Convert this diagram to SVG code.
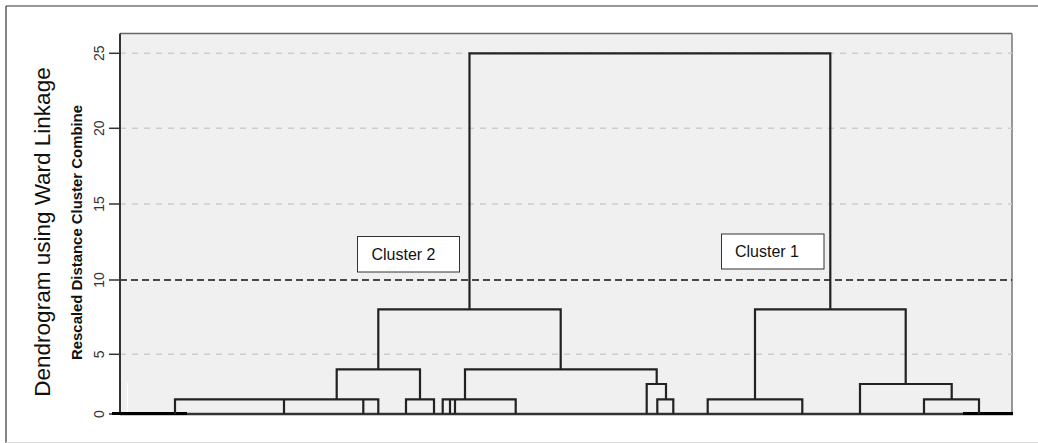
<svg xmlns="http://www.w3.org/2000/svg" width="1038" height="443" viewBox="0 0 1038 443">
<style>
.grid{stroke:#cdcdcd;stroke-width:1.5;stroke-dasharray:6 6;fill:none}
.cut{stroke:#111;stroke-width:1.5;stroke-dasharray:7 4;fill:none}
.link{stroke:#222;stroke-width:2.2;fill:none;stroke-linejoin:miter}
.tick{stroke:#333;stroke-width:1.5}
.tl{font-family:"Liberation Sans",Arial,sans-serif;font-size:14px;fill:#333;text-anchor:middle}
.lbl{font-family:"Liberation Sans",Arial,sans-serif;font-size:16px;fill:#111;text-anchor:middle}
.box{fill:#fff;stroke:#333;stroke-width:1}
</style>
<rect x="0" y="0" width="1038" height="443" fill="#fff"/>
<g id="frame">
<line x1="6" y1="6" x2="1038" y2="6" stroke="#333" stroke-width="1.2"/>
<line x1="6" y1="6" x2="6" y2="443" stroke="#333" stroke-width="1.2"/>
<line x1="6" y1="442.5" x2="1038" y2="442.5" stroke="#ddd" stroke-width="1"/>
</g>
<g id="plot">
<rect x="120" y="33.5" width="892" height="380.5" fill="#f0f0f0"/>
<line x1="120" y1="33.5" x2="1012" y2="33.5" stroke="#666" stroke-width="1.5"/>
<line x1="1012" y1="33.5" x2="1012" y2="414" stroke="#777" stroke-width="1.5"/>
<line class="grid" x1="120" y1="53.3" x2="1012" y2="53.3"/>
<line class="grid" x1="120" y1="128.3" x2="1012" y2="128.3"/>
<line class="grid" x1="120" y1="204" x2="1012" y2="204"/>
<line class="grid" x1="120" y1="354.3" x2="1012" y2="354.3"/>
<line class="cut" x1="120" y1="280" x2="1012" y2="280"/>
<line x1="127.5" y1="383" x2="127.5" y2="413" stroke="#fff" stroke-width="1"/>
</g>
<g id="axis">
<line x1="120" y1="33.5" x2="120" y2="414" stroke="#333" stroke-width="2"/>
<line class="tick" x1="109" y1="53.3" x2="120" y2="53.3"/>
<line class="tick" x1="109" y1="128.3" x2="120" y2="128.3"/>
<line class="tick" x1="109" y1="204" x2="120" y2="204"/>
<line class="tick" x1="109" y1="280" x2="120" y2="280"/>
<line class="tick" x1="109" y1="354.3" x2="120" y2="354.3"/>
<line class="tick" x1="109" y1="414" x2="120" y2="414"/>
<text class="tl" transform="translate(103.5,53.3) rotate(-90)">25</text>
<text class="tl" transform="translate(103.5,128.3) rotate(-90)">20</text>
<text class="tl" transform="translate(103.5,204) rotate(-90)">15</text>
<text class="tl" transform="translate(103.5,280) rotate(-90)">10</text>
<text class="tl" transform="translate(103.5,354.3) rotate(-90)">5</text>
<text class="tl" transform="translate(103.5,414) rotate(-90)">0</text>
<text transform="translate(49.5,232) rotate(-90)" font-family="Liberation Sans,Arial,sans-serif" font-size="22.5" fill="#111" text-anchor="middle">Dendrogram using Ward Linkage</text>
<text transform="translate(82,232.5) rotate(-90)" font-family="Liberation Sans,Arial,sans-serif" font-size="14.5" font-weight="bold" fill="#111" text-anchor="middle" textLength="255" lengthAdjust="spacingAndGlyphs">Rescaled Distance Cluster Combine</text>
</g>
<g id="connectors">
<line x1="120" y1="414" x2="1013" y2="414" stroke="#333" stroke-width="2.5"/>
<line x1="112" y1="413.5" x2="187" y2="413.5" stroke="#000" stroke-width="3"/>
<line x1="963" y1="413.5" x2="1013" y2="413.5" stroke="#000" stroke-width="3"/>
<path class="link" d="M175,414 V399.3 H378.3 V414 M284,399.3 V414 M363.3,399.3 V414"/>
<path class="link" d="M336.7,399.3 V369.3 H420 V399.3 M406,414 V399.3 H434 V414"/>
<path class="link" d="M442.7,414 V399.3 H515.7 V414 M450,399.3 V414 M455,399.3 V414"/>
<path class="link" d="M465,399.3 V369.3 H656.7 V384"/>
<path class="link" d="M646.7,414 V384 H666 V399.3 M657.3,414 V399.3 H673.3 V414"/>
<path class="link" d="M378.3,369.3 V309.3 H560.7 V369.3"/>
<path class="link" d="M707.7,414 V399.3 H802.3 V414"/>
<path class="link" d="M860,414 V384 H951.7 V399.3 M924,414 V399.3 H979 V414"/>
<path class="link" d="M755,399.3 V309.3 H905.7 V384"/>
<path class="link" d="M469.5,309.3 V53.3 H830.3 V309.3"/>
</g>
<g id="cluster2">
<rect class="box" x="357.5" y="236.5" width="102" height="35.5"/>
<text class="lbl" x="403.5" y="259.5">Cluster 2</text>
</g>
<g id="cluster1">
<rect class="box" x="721.5" y="234" width="102.5" height="35"/>
<text class="lbl" x="767" y="257">Cluster 1</text>
</g>
</svg>
